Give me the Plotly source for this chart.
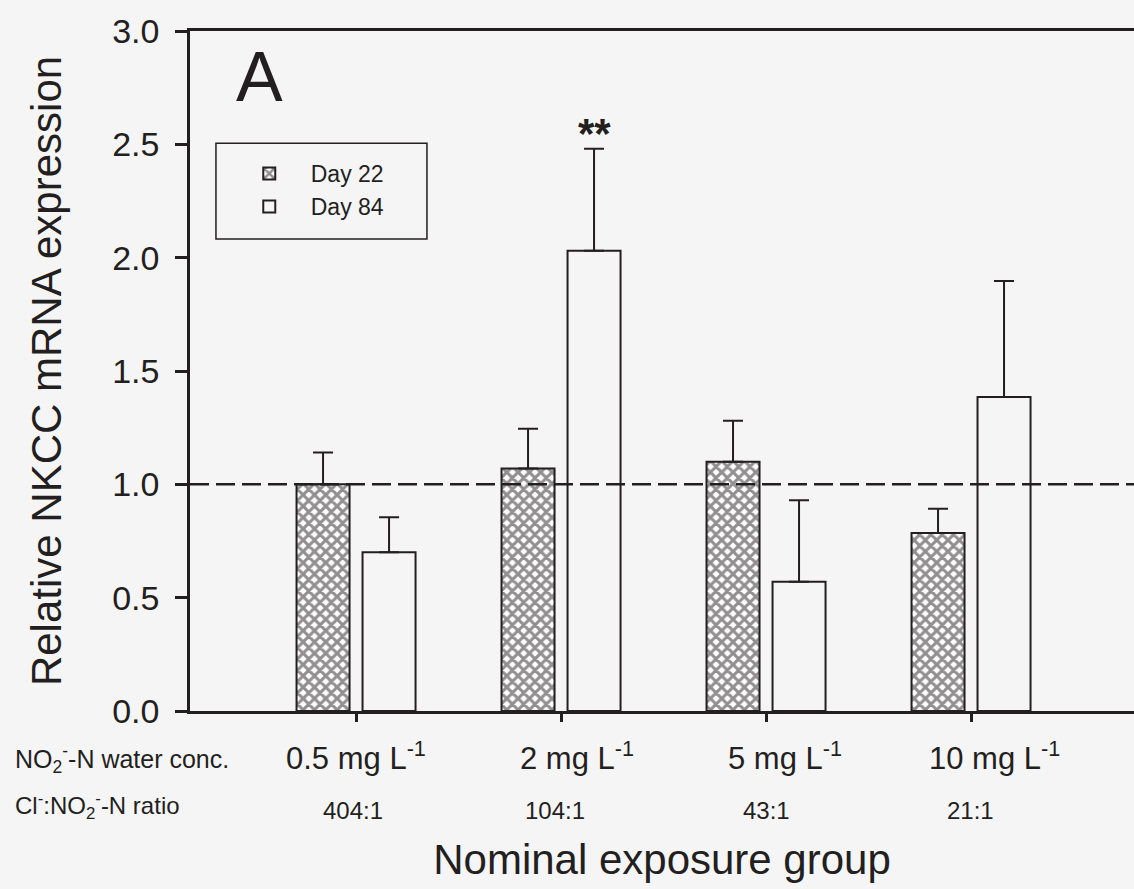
import plotly.graph_objects as go

# ---- data ----
groups = [0, 1, 2, 3]
conc_labels = ["0.5 mg L<sup>-1</sup>", "2 mg L<sup>-1</sup>", "5 mg L<sup>-1</sup>", "10 mg L<sup>-1</sup>"]
ratio_labels = ["404:1", "104:1", "43:1", "21:1"]
day22 = [1.00, 1.07, 1.10, 0.785]
day22_err = [0.14, 0.175, 0.18, 0.107]
day84 = [0.70, 2.03, 0.57, 1.385]
day84_err = [0.155, 0.45, 0.36, 0.512]
sig_labels = ["", "**", "", ""]
ref_level = 1.0

# ---- style ----
conc_nudge = [0, 16, 19, 23]      # px nudges of the hand-placed labels
ratio_nudge = [-3, -6, 0, -1]
INK = "#231f20"
BG = "#f5f5f5"
FONT = "Liberation Sans, Arial, sans-serif"

fig = go.Figure()
fig.add_trace(go.Bar(
    x=groups, y=day22, name="Day 22",
    marker=dict(color=BG, line=dict(color=INK, width=2),
                pattern=dict(shape="x", fgcolor=INK, bgcolor="white", size=8, solidity=0.62)),
    error_y=dict(type="data", symmetric=False, array=day22_err, arrayminus=[0]*4,
                 color=INK, thickness=2, width=10),
))
fig.add_trace(go.Bar(
    x=groups, y=day84, name="Day 84",
    marker=dict(color=BG, line=dict(color=INK, width=2)),
    error_y=dict(type="data", symmetric=False, array=day84_err, arrayminus=[0]*4,
                 color=INK, thickness=2, width=10),
))

# significance marks above Day 84 bars
bar_offset = 0.161
for g, lab, v, e in zip(groups, sig_labels, day84, day84_err):
    if lab:
        fig.add_annotation(x=g + bar_offset, y=v + e, xref="x", yref="y", text="<b>" + lab + "</b>",
                           showarrow=False, yanchor="bottom", yshift=-10,
                           font=dict(size=42, color=INK, family=FONT))

# category label rows
for g, c, r, cn, rn in zip(groups, conc_labels, ratio_labels, conc_nudge, ratio_nudge):
    fig.add_annotation(x=g, y=-0.034, xref="x", yref="paper", text=c, showarrow=False,
                       yanchor="top", xshift=cn, font=dict(size=31, color=INK, family=FONT))
    fig.add_annotation(x=g, y=-0.124, xref="x", yref="paper", text=r, showarrow=False,
                       yanchor="top", xshift=rn, font=dict(size=24, color=INK, family=FONT))

fig.add_annotation(x=-0.188, y=-0.041, xref="paper", yref="paper",
                   text="NO<sub>2</sub><sup>-</sup>-N water conc.", showarrow=False,
                   xanchor="left", yanchor="top", font=dict(size=25, color=INK, family=FONT))
fig.add_annotation(x=-0.188, y=-0.112, xref="paper", yref="paper",
                   text="Cl<sup>-</sup>:NO<sub>2</sub><sup>-</sup>-N ratio", showarrow=False,
                   xanchor="left", yanchor="top", font=dict(size=24, color=INK, family=FONT))

# panel letter
fig.add_annotation(x=0.047, y=0.992, xref="paper", yref="paper", text="A", showarrow=False,
                   xanchor="left", yanchor="top", font=dict(size=70, color=INK, family=FONT))

# reference dashed line
fig.add_shape(type="line", xref="paper", yref="y", x0=0, x1=1, y0=ref_level, y1=ref_level,
              line=dict(color=INK, width=2.5, dash="19px,7px"), layer="above")

# legend box
fig.add_shape(type="rect", xref="paper", yref="paper", x0=0.0275, x1=0.251, y0=0.694, y1=0.835,
              line=dict(color=INK, width=1.5), fillcolor="rgba(0,0,0,0)")

fig.update_layout(
    width=1134, height=889,
    margin=dict(l=190, r=0, t=31, b=178),
    paper_bgcolor=BG, plot_bgcolor=BG,
    font=dict(family=FONT, color=INK),
    barmode="group", bargap=0.356, bargroupgap=0.197,
    showlegend=True,
    legend=dict(x=0.04, y=0.822, xanchor="left", yanchor="top", bgcolor="rgba(0,0,0,0)",
                borderwidth=0, font=dict(size=23, color=INK, family=FONT),
                itemwidth=73, tracegroupgap=0),
    xaxis=dict(range=[-0.81, 3.795], tickvals=groups, showticklabels=False,
               ticks="outside", ticklen=8, tickwidth=3, tickcolor=INK,
               showline=True, linewidth=3, linecolor=INK, mirror=True,
               showgrid=False, zeroline=False,
               title=dict(text="Nominal exposure group", font=dict(size=42, color=INK, family=FONT),
                          standoff=124)),
    yaxis=dict(range=[0, 3.0], tickvals=[0, 0.5, 1.0, 1.5, 2.0, 2.5, 3.0], tickformat=".1f",
               ticks="outside", ticklen=12, tickwidth=2.5, tickcolor=INK,
               showline=True, linewidth=2.5, linecolor=INK,
               showgrid=False, zeroline=False, ticklabelstandoff=9,
               tickfont=dict(size=34, color=INK, family=FONT),
               title=dict(text="Relative NKCC mRNA expression", font=dict(size=42, color=INK, family=FONT),
                          standoff=38)),
)

fig.write_html("out.html", post_script="document.body.style.margin='0';",
               config={"displayModeBar": False})
